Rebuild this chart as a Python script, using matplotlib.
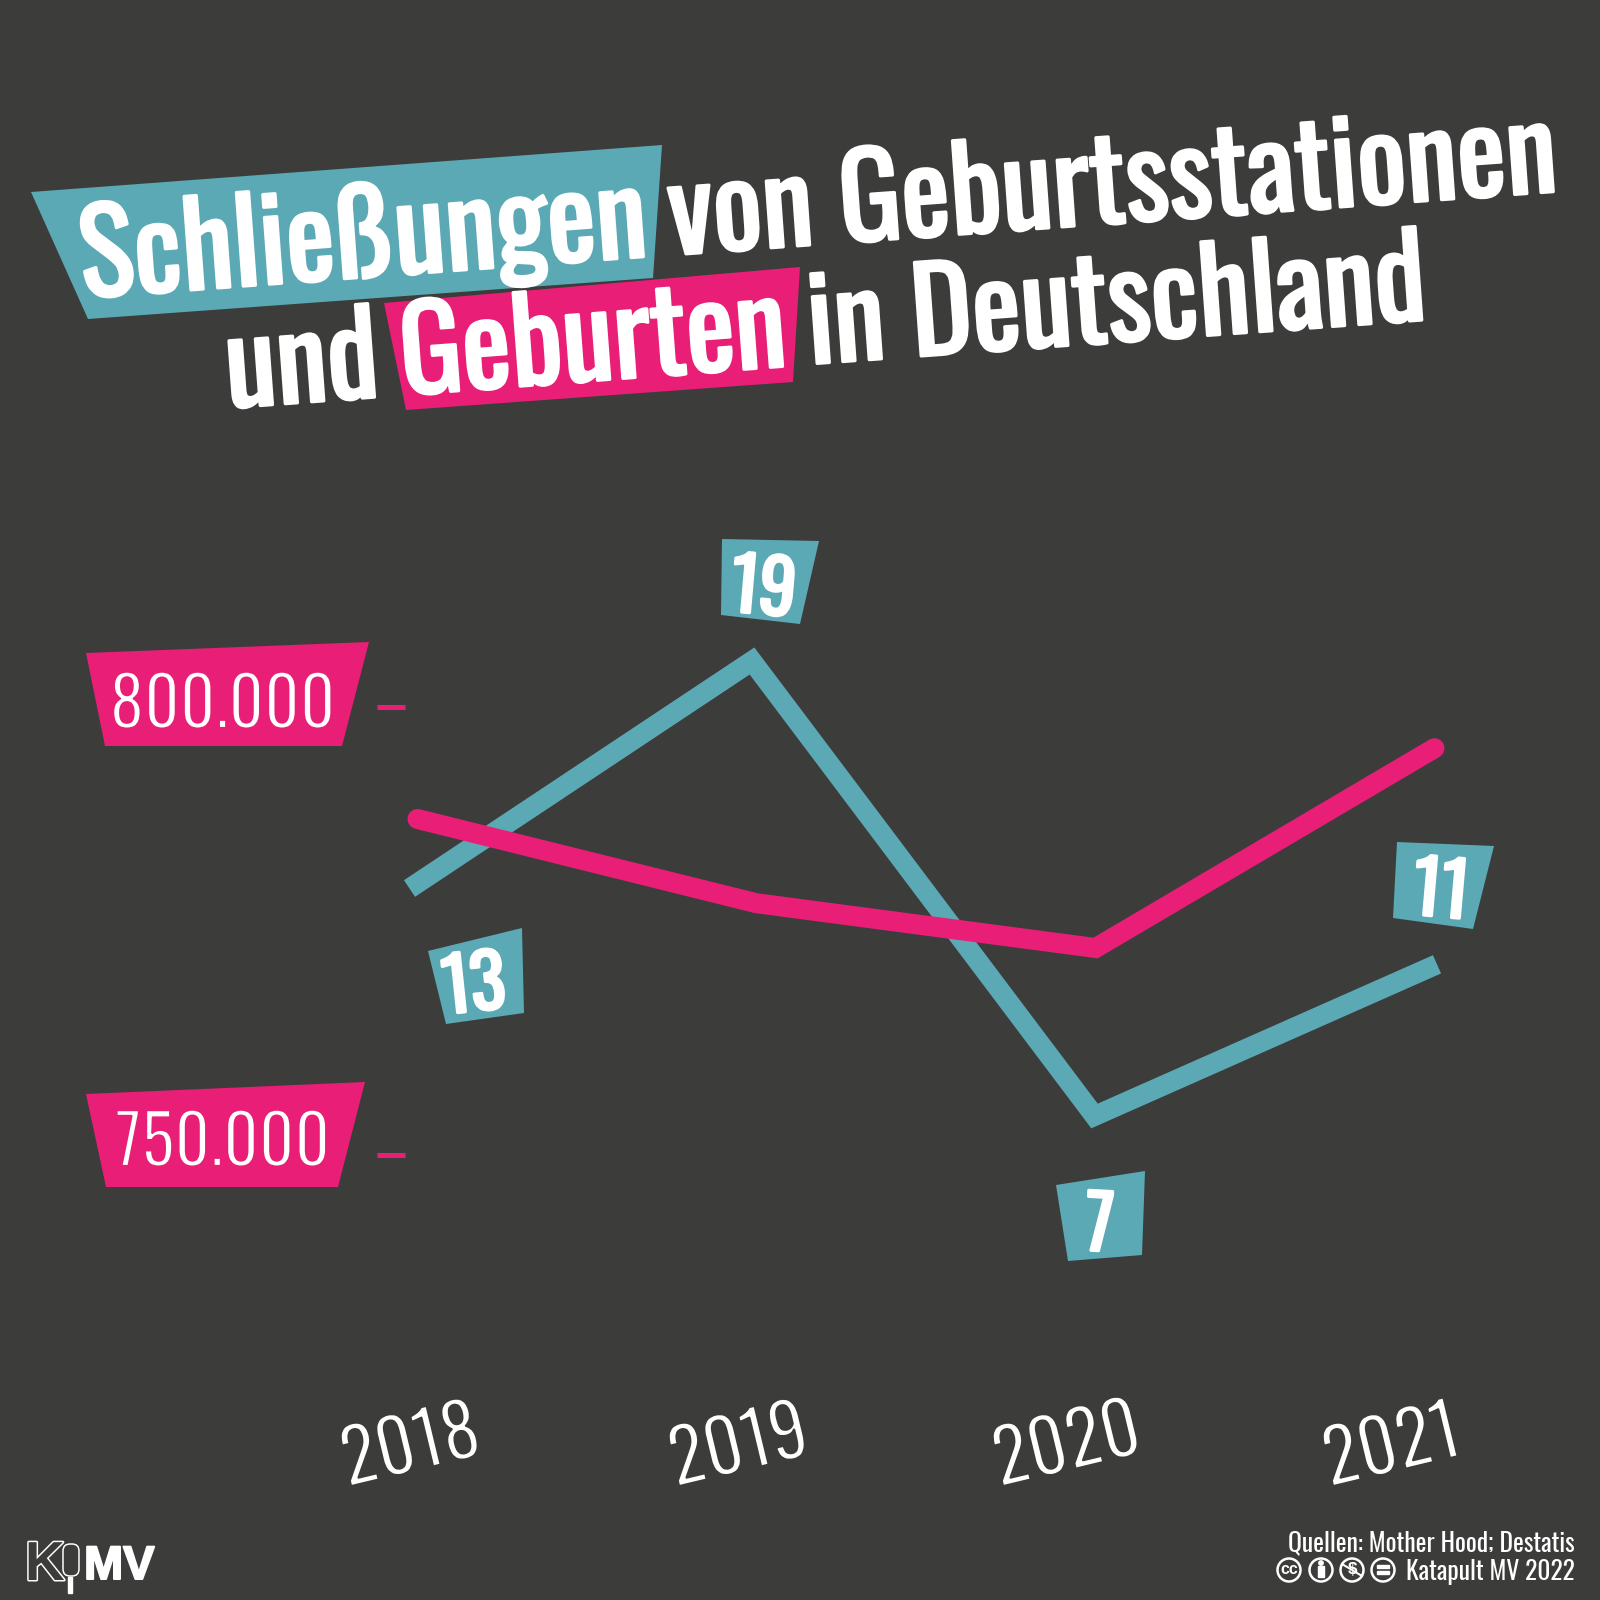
#!/usr/bin/env python3

import matplotlib
matplotlib.use('Agg')
import matplotlib.pyplot as plt
import matplotlib.patheffects as pe
from matplotlib.patches import Polygon, Circle, FancyBboxPatch, Rectangle

years = [2018, 2019, 2020, 2021]
closures = [13, 19, 7, 11]
births = [787500, 778100, 773100, 795400]
birth_ticks = [800000, 750000]
year_labels = ['2018', '2019', '2020', '2021']

title_parts = ['Schließungen', 'von Geburtsstationen', 'und', 'Geburten', 'in Deutschland']
source_line = 'Quellen: Mother Hood; Destatis'
credit_line = 'Katapult MV 2022'

BG = '#3c3c3b'
TEAL = '#5ca9b6'
PINK = '#e91e76'
FONT = ['Oswald', 'Liberation Sans']

def pt(px):
    return px * 0.72

fig = plt.figure(figsize=(16, 16), dpi=100, facecolor=BG)

# pixel canvas for the boxes and the free text
deco = fig.add_axes([0, 0, 1, 1])
deco.set_xlim(0, 1600)
deco.set_ylim(1600, 0)
deco.axis('off')

def box(points, color):
    deco.add_patch(Polygon(points, closed=True, facecolor=color, edgecolor='none', zorder=1))

def label(x, y, s, size, rot=0, ha='left', family=FONT, weight='normal'):
    return deco.text(x, y, s, fontsize=pt(size), rotation=rot, rotation_mode='anchor', color='white',
                     ha=ha, va='baseline', fontweight=weight, family=family, zorder=5)

# the font only comes in one weight here, so bold is a white outline...
def bold(txt, width):
    txt.set_path_effects([pe.withStroke(linewidth=pt(width), foreground='white')])

# ...and light is an outline in the colour behind the text
def light(txt, width, behind):
    txt.set_path_effects([pe.Stroke(linewidth=pt(width), foreground=behind)])

# title
box([(31, 192), (662, 145), (653, 278), (88, 319)], TEAL)
box([(384, 303), (800, 267), (793, 382), (406, 410)], PINK)
title_size = 116
title_pos = [(82, 298, 4.2), (671, 255, 4.1), (228, 408, 4.2), (403, 395, 4.3), (810, 364, 4.1)]
for (x, y, r), s in zip(title_pos, title_parts):
    bold(label(x, y, s, title_size, r), 3)

# closures line, own scale: 19 sits at y=661 and 7 at y=1116
ax_c = fig.add_axes([0, 0, 1, 1], facecolor='none')
step_c = 342.5
left_c = 2018 - 409.5 / step_c
ax_c.set_xlim(left_c, left_c + 1600 / step_c)
per_unit = (1116 - 661) / 12
ax_c.set_ylim(7 - (1600 - 1116) / per_unit, 7 + 1116 / per_unit)
ax_c.axis('off')
ax_c.plot(years, closures, color=TEAL, lw=pt(20), solid_capstyle='butt', solid_joinstyle='miter', zorder=2)

# births line, 800.000 at y=707 and 750.000 at y=1155
ax_b = fig.add_axes([0, 0, 1, 1], facecolor='none')
step_b = 339
left_b = 2018 - 417.5 / step_b
ax_b.set_xlim(left_b, left_b + 1600 / step_b)
per_birth = (1155 - 707) / 50000
ax_b.set_ylim(800000 - (1600 - 707) / per_birth, 800000 + 707 / per_birth)
ax_b.axis('off')
ax_b.plot(years, births, color=PINK, lw=pt(20), solid_capstyle='round', solid_joinstyle='miter', zorder=3)
ax_b.hlines(birth_ticks, left_b + 377 / step_b, left_b + 405 / step_b, color=PINK, lw=pt(5))

# axis labels
box([(86, 653), (369, 642), (342, 746), (105, 746)], PINK)
box([(86, 1094), (365, 1082), (338, 1187), (106, 1187)], PINK)
tick_text = [f'{t:,}'.replace(',', '.') for t in birth_ticks]
light(label(222.5, 728, tick_text[0], 69, ha='center'), 2.2, PINK)
light(label(222.5, 1166, tick_text[1], 69, ha='center'), 2.2, PINK)

for (x, y), s in zip([(348, 1487), (676, 1487), (1000, 1487), (1330, 1487)], year_labels):
    light(label(x, y, s, 75, 13.5), 2.4, BG)

# value flags
box([(428, 951), (522, 928), (524, 1013), (446, 1024)], TEAL)
box([(722, 539), (819, 541), (800, 624), (721, 615)], TEAL)
box([(1056, 1185), (1145, 1171), (1142, 1255), (1068, 1261)], TEAL)
box([(1397, 842), (1494, 846), (1473, 929), (1393, 918)], TEAL)
flag_pos = [(445, 1014, 6), (729, 611, -5), (1084, 1250, -3), (1411, 914, -5)]
for (x, y, r), v in zip(flag_pos, closures):
    bold(label(x, y, str(v), 74, r), 3)

# footer
label(1575, 1551, source_line, 25.6, ha='right')
label(1575, 1580, credit_line, 25.6, ha='right')
for cx in [1289, 1321, 1352, 1383]:
    deco.add_patch(Circle((cx, 1570), 11.5, facecolor='none', edgecolor='white', lw=pt(2.5), zorder=5))
deco.text(1289, 1570, 'cc', color='white', fontsize=pt(16), fontweight='bold', ha='center', va='center',
          family='Liberation Sans')
deco.add_patch(Circle((1321, 1563), 2.2, color='white'))
deco.add_patch(Rectangle((1318, 1566), 6, 11, color='white'))
deco.text(1352, 1570, '$', color='white', fontsize=pt(17), fontweight='bold', ha='center', va='center',
          family='Liberation Sans')
deco.plot([1342, 1362], [1564, 1576], color='white', lw=pt(2))
deco.add_patch(Rectangle((1377, 1565), 12, 3, color='white'))
deco.add_patch(Rectangle((1377, 1571), 12, 3, color='white'))

# logo
k = label(25, 1580, 'K', 55, family='Liberation Sans', weight='bold')
k.set_color(BG)
bold(k, 3)
deco.add_patch(FancyBboxPatch((66, 1547), 10, 26, boxstyle='round,pad=3,rounding_size=7', facecolor='none',
                              edgecolor='white', lw=pt(1.5)))
deco.add_patch(Rectangle((68, 1577), 3.5, 16, color='white'))
bold(label(84, 1579, 'MV', 47, family='Liberation Sans', weight='bold'), 2)

fig.savefig('out.png', dpi=100, facecolor=BG)
